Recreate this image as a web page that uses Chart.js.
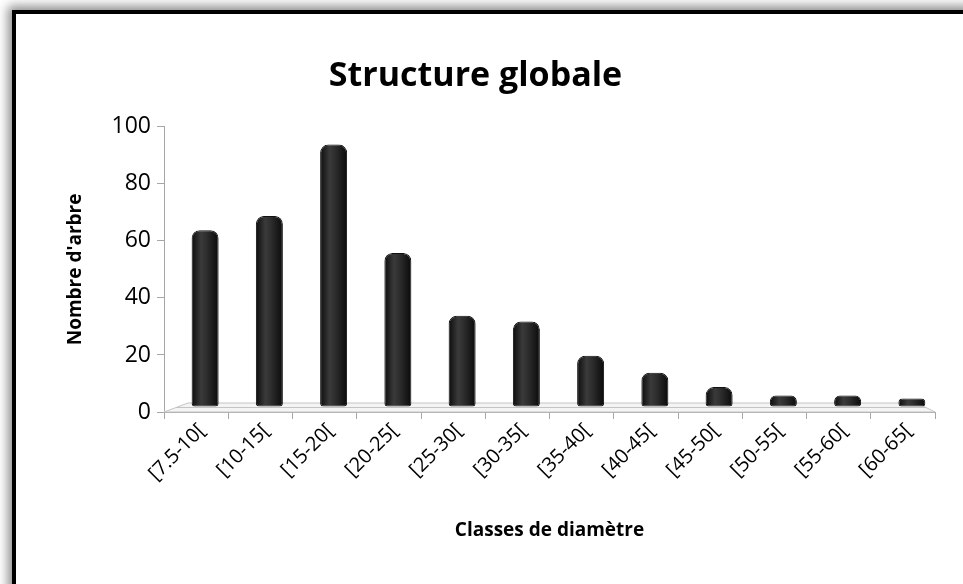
<!DOCTYPE html>
<html>
<head>
<meta charset="utf-8">
<script src="https://cdn.jsdelivr.net/npm/chart.js@4.4.0/dist/chart.umd.min.js"></script>
<style>
  html, body { margin: 0; padding: 0; background: #fff; }
  #wrap { position: relative; width: 963px; height: 584px; overflow: hidden; }
  #frame {
    position: absolute; left: 12px; top: 10px; width: 1000px; height: 700px;
    border-left: 4px solid #000; border-top: 4px solid #000;
    box-shadow: -4px -4px 10px rgba(0,0,0,0.45);
  }
  #chart { position: absolute; left: 0; top: 0; }
</style>
</head>
<body>
<div id="wrap">
  <div id="frame"></div>
  <canvas id="chart" width="963" height="584"></canvas>
</div>
<script>
// Diameter classes and tree counts
const classes = ['[7.5-10[', '[10-15[', '[15-20[', '[20-25[', '[25-30[', '[30-35[',
                 '[35-40[', '[40-45[', '[45-50[', '[50-55[', '[55-60[', '[60-65['];
const nbArbres = [62, 67, 92, 54, 32, 30, 18, 12, 7, 4, 4, 3];
const yTicks = [0, 20, 40, 60, 80, 100];

const FONT = "'Open Sans', sans-serif";
const AXIS_GRAY = '#a6a6a6';
const BAR_PCT = 0.42;
const DEPTH_X = 9, DEPTH_Y = -5;
const PAD_LEFT = 16, PAD_BOTTOM = 42;

// cylinder-like horizontal shading for each bar
function barFill(ctx) {
  const chart = ctx.chart;
  const xs = chart.scales.x;
  if (!xs || ctx.dataIndex === undefined) return '#222';
  const cx = xs.getPixelForValue(ctx.dataIndex);
  const w = (xs.width / classes.length) * BAR_PCT;
  if (!Number.isFinite(cx) || !Number.isFinite(w) || w <= 0) return '#222';
  const g = chart.ctx.createLinearGradient(cx - w / 2, 0, cx + w / 2, 0);
  g.addColorStop(0, '#0c0c0c');
  g.addColorStop(0.35, '#3a3a3a');
  g.addColorStop(0.55, '#2e2e2e');
  g.addColorStop(1, '#0a0a0a');
  return g;
}

// light 3D floor under the bars, bars shifted back into the depth
const floor3d = {
  id: 'floor3d',
  beforeDatasetsDraw(chart) {
    const { ctx, chartArea: a } = chart;
    ctx.save();
    ctx.fillStyle = '#f4f4f4';
    ctx.strokeStyle = '#c4c4c4';
    ctx.lineWidth = 1;
    ctx.beginPath();
    ctx.moveTo(a.left, a.bottom);
    ctx.lineTo(a.left + 24, a.bottom - 9);
    ctx.lineTo(a.right - 18, a.bottom - 9);
    ctx.lineTo(a.right, a.bottom);
    ctx.closePath();
    ctx.fill();
    ctx.stroke();
    ctx.beginPath();
    ctx.moveTo(a.left + 12, a.bottom - 4.5);
    ctx.lineTo(a.right - 9, a.bottom - 4.5);
    ctx.stroke();
    ctx.restore();
    ctx.save();
    ctx.translate(DEPTH_X, DEPTH_Y);
  },
  afterDatasetsDraw(chart) {
    chart.ctx.restore();
  }
};

new Chart(document.getElementById('chart'), {
  type: 'bar',
  data: {
    labels: classes,
    datasets: [{
      data: nbArbres,
      backgroundColor: barFill,
      borderColor: '#111',
      borderWidth: 1,
      borderRadius: { topLeft: 8, topRight: 8, bottomLeft: 3, bottomRight: 3 },
      borderSkipped: false,
      barPercentage: BAR_PCT,
      categoryPercentage: 1
    }]
  },
  options: {
    responsive: false,
    animation: false,
    layout: { padding: { top: 16, left: PAD_LEFT, right: 28, bottom: PAD_BOTTOM } },
    plugins: {
      legend: { display: false },
      tooltip: { enabled: false },
      title: {
        display: true,
        text: 'Structure globale',
        color: '#000',
        font: { family: FONT, size: 34, weight: 'bold' },
        padding: { top: 40, bottom: 30 }
      }
    },
    scales: {
      x: {
        grid: { display: true, drawOnChartArea: false, drawTicks: true, tickLength: 7, color: AXIS_GRAY, offset: true },
        border: { display: true, color: AXIS_GRAY },
        ticks: {
          color: '#000', minRotation: 45, maxRotation: 45, padding: 0, labelOffset: 6,
          font: { family: FONT, size: 20 }
        },
        title: {
          display: true, text: 'Classes de diamètre', color: '#000',
          font: { family: FONT, size: 19, weight: 'bold' }, padding: { top: 4, bottom: 0 }
        },
        afterFit(s) { s.height = 584 - PAD_BOTTOM - 412; }
      },
      y: {
        min: 0, max: 100,
        afterBuildTicks(s) { s.ticks = yTicks.map(v => ({ value: v })); },
        grid: { display: true, drawOnChartArea: false, drawTicks: true, tickLength: 7, color: AXIS_GRAY },
        border: { display: true, color: AXIS_GRAY },
        ticks: { color: '#000', padding: 6, font: { family: FONT, size: 23 } },
        title: {
          display: true, text: "Nombre d'arbre", color: '#000',
          font: { family: FONT, size: 19, weight: 'bold' }, padding: { top: 48, bottom: 6 }
        },
        afterFit(s) { s.width = 164 - PAD_LEFT; }
      }
    }
  },
  plugins: [floor3d]
});
</script>
</body>
</html>
